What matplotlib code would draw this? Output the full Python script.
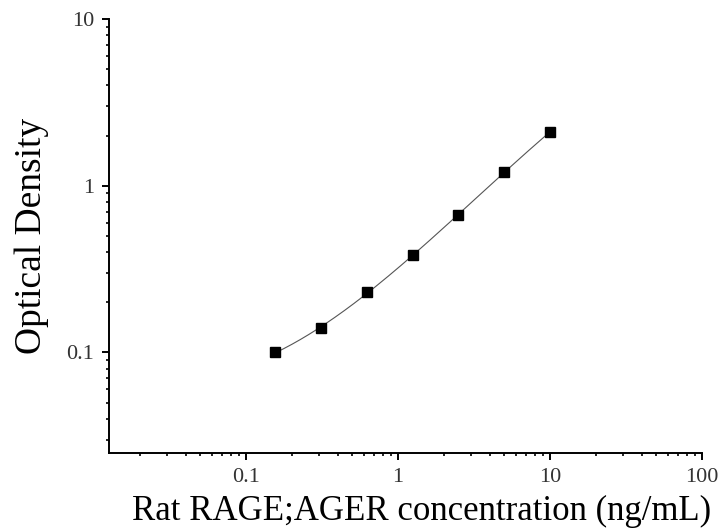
import numpy as np
import matplotlib
matplotlib.use('Agg')
import matplotlib.pyplot as plt
from matplotlib.ticker import LogLocator, FixedLocator, FixedFormatter, NullFormatter

# standard curve data
conc = [0.156, 0.3125, 0.625, 1.25, 2.5, 5, 10]
od = [0.100, 0.140, 0.230, 0.384, 0.663, 1.21, 2.10]

x_ticks = [0.1, 1, 10, 100]
x_tick_labels = ['0.1', '1', '10', '100']
y_ticks = [0.1, 1, 10]
y_tick_labels = ['0.1', '1', '10']

plt.rcParams['font.family'] = 'Liberation Serif'

fig = plt.figure(figsize=(7.18, 5.32), dpi=100)
ax = fig.add_axes([0.1522, 0.149, 0.8255, 0.8153])

# smooth fit in log-log space
lx = np.log10(conc)
ly = np.log10(od)
coef = np.polyfit(lx, ly, 3)
xs = np.linspace(lx[0], lx[-1], 200)
ax.plot(10 ** xs, 10 ** np.polyval(coef, xs), color='#555555', lw=0.8, zorder=2)
ax.plot(conc, od, 's', color='black', ms=7, zorder=3)

ax.set_xscale('log')
ax.set_yscale('log')
ax.set_xlim(0.0126, 100)
ax.set_ylim(0.025, 10)

ax.xaxis.set_major_locator(FixedLocator(x_ticks))
ax.xaxis.set_major_formatter(FixedFormatter(x_tick_labels))
ax.yaxis.set_major_locator(FixedLocator(y_ticks))
ax.yaxis.set_major_formatter(FixedFormatter(y_tick_labels))
ax.xaxis.set_minor_locator(LogLocator(base=10, subs=np.arange(2, 10), numticks=20))
ax.yaxis.set_minor_locator(LogLocator(base=10, subs=np.arange(2, 10), numticks=20))
ax.xaxis.set_minor_formatter(NullFormatter())
ax.yaxis.set_minor_formatter(NullFormatter())

for s in ['top', 'right']:
    ax.spines[s].set_visible(False)
for s in ['left', 'bottom']:
    ax.spines[s].set_linewidth(1.4)

ax.tick_params(which='major', direction='out', length=5, width=1.4, labelsize=16, pad=6, colors='black')
ax.tick_params(which='minor', direction='out', length=2.5, width=1.2)
ax.tick_params(axis='x', labelcolor='#333333')
ax.tick_params(axis='y', labelcolor='#333333')

ax.set_xlabel('Rat RAGE;AGER concentration (ng/mL)', fontsize=25)
ax.xaxis.set_label_coords(0.527, -0.098)
ax.set_ylabel('Optical Density', fontsize=27, labelpad=12)

fig.savefig('out.png', dpi=100)
